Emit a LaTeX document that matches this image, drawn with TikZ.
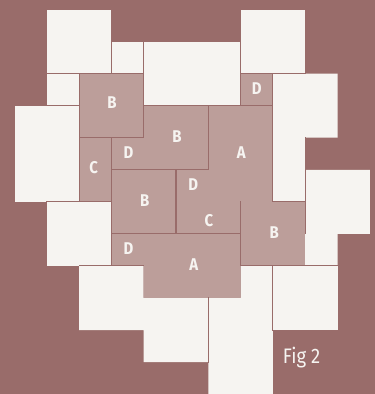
\documentclass[tikz,border=0pt]{standalone}
\usepackage{fontspec}
\newfontfamily\figfont[FakeStretch=0.88]{Fira Sans}
\definecolor{bg}{HTML}{996C6A}
\definecolor{pinkfill}{HTML}{BC9E9A}
\definecolor{paper}{HTML}{F6F4F1}
\begin{document}
\begin{tikzpicture}[x=32.3pt,y=-32.05pt,
  whitepiece/.style={fill=paper},
  pinkpiece/.style={fill=pinkfill},
  seam/.style={draw=bg,line width=1.1pt,line cap=rect},
  lab/.style={text=paper,font=\figfont\bfseries\fontsize{17}{17}\selectfont,inner sep=0pt},
  figlab/.style={text=paper,font=\figfont\fontsize{21}{21}\selectfont,inner sep=0pt,anchor=base west}]
\fill[bg] (0pt,0pt) rectangle (375pt,-394pt);
\useasboundingbox (0pt,0pt) rectangle (375pt,-394pt);
\begin{scope}[shift={(14.5pt,-9.5pt)}]
  % white pieces
  \path[whitepiece] (1,0) rectangle (3,2);
  \path[whitepiece] (3,1) rectangle (4,2);
  \path[whitepiece] (4,1) rectangle (7,3);
  \path[whitepiece] (7,0) rectangle (9,2);
  \path[whitepiece] (1,2) rectangle (2,3);
  \path[whitepiece] (0,3) rectangle (2,6);
  \path[whitepiece] (8,2) -- (10,2) -- (10,4) -- (9,4) -- (9,6) -- (8,6) -- cycle;
  \path[whitepiece] (9,5) -- (11,5) -- (11,7) -- (10,7) -- (10,8) -- (9,8) -- cycle;
  \path[whitepiece] (8,8) rectangle (10,10);
  \path[whitepiece] (7,8) -- (8,8) -- (8,12) -- (6,12) -- (6,9) -- (7,9) -- cycle;
  \path[whitepiece] (2,8) -- (4,8) -- (4,9) -- (6,9) -- (6,11) -- (4,11) -- (4,10) -- (2,10) -- cycle;
  \path[whitepiece] (1,6) rectangle (3,8);
  % pink pieces
  \path[pinkpiece] (2,2) rectangle (4,4);
  \path[pinkpiece] (4,3) -- (6,3) -- (6,5) -- (3,5) -- (3,4) -- (4,4) -- cycle;
  \path[pinkpiece] (2,4) rectangle (3,6);
  \path[pinkpiece] (7,2) rectangle (8,3);
  \path[pinkpiece] (6,3) -- (8,3) -- (8,6) -- (7,6) -- (7,7) -- (5,7) -- (5,5) -- (6,5) -- cycle;
  \path[pinkpiece] (3,5) rectangle (5,7);
  \path[pinkpiece] (7,6) rectangle (9,8);
  \path[pinkpiece] (3,7) -- (7,7) -- (7,9) -- (4,9) -- (4,8) -- (3,8) -- cycle;
  % seams
  \draw[seam] (3,1) -- (3,2);
  \draw[seam] (4,1) -- (4,4);
  \draw[seam] (7,1) -- (7,3);
  \draw[seam] (1,2) -- (4,2);
  \draw[seam] (7,2) -- (9,2);
  \draw[seam] (2,2) -- (2,6);
  \draw[seam] (1,3) -- (2,3);
  \draw[seam] (4,3) -- (8,3);
  \draw[seam] (8,2) -- (8,6);
  \draw[seam] (2,4) -- (4,4);
  \draw[seam] (3,4) -- (3,8);
  \draw[seam] (3,5) -- (6,5);
  \draw[seam] (6,3) -- (6,5);
  \draw[seam] (5,5) -- (5,7);
  \draw[seam] (1,6) -- (3,6);
  \draw[seam] (8,6) -- (9,6);
  \draw[seam] (9,4) -- (9,7);
  \draw[seam] (3,7) -- (7,7);
  \draw[seam] (7,6) -- (7,8);
  \draw[seam] (2,8) -- (4,8);
  \draw[seam] (7,8) -- (10,8);
  \draw[seam] (8,8) -- (8,10);
  \draw[seam] (6,9) -- (6,11);
\end{scope}
% labels
\node[lab] (lB1) at (112pt,-102.5pt) {B};
\node[lab] (lB2) at (177pt,-136.3pt) {B};
\node[lab] (lD1) at (128.5pt,-152.8pt) {D};
\node[lab] (lC1) at (93.7pt,-167.5pt) {C};
\node[lab] (lD2) at (256.8pt,-88.2pt) {D};
\node[lab] (lA1) at (241.3pt,-152.5pt) {A};
\node[lab] (lD3) at (193.3pt,-184.5pt) {D};
\node[lab] (lC2) at (209pt,-220.8pt) {C};
\node[lab] (lB3) at (274.2pt,-232.5pt) {B};
\node[lab] (lA2) at (193.7pt,-265pt) {A};
\node[lab] (lB4) at (144.8pt,-200.8pt) {B};
\node[lab] (lD4) at (128.5pt,-248.5pt) {D};
\node[figlab] (fig) at (282.7pt,-363.3pt) {Fig 2};
\end{tikzpicture}
\end{document}
